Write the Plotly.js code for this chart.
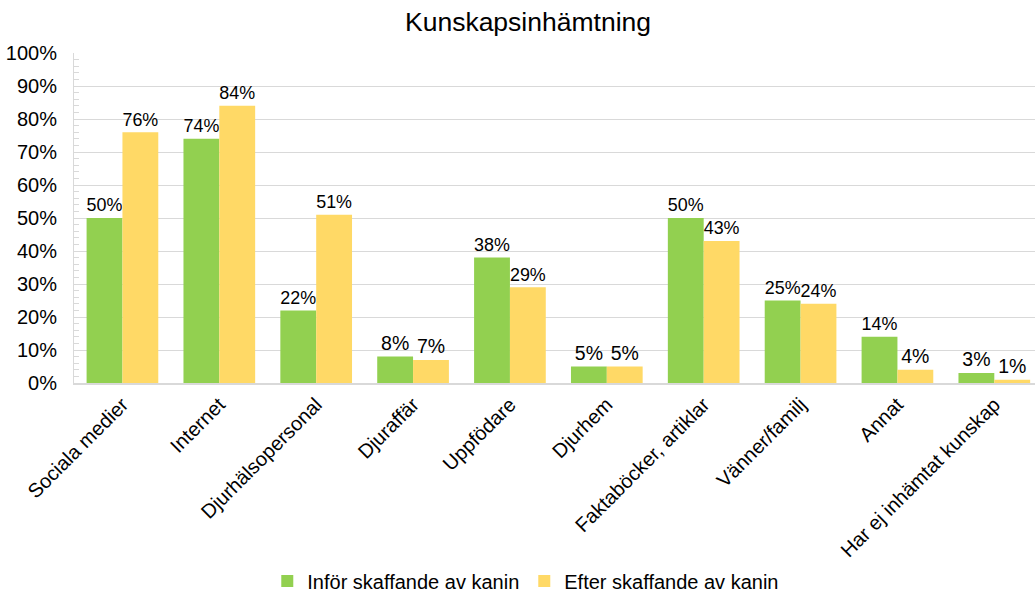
<!DOCTYPE html>
<html>
<head>
<meta charset="utf-8">
<script src="https://cdn.plot.ly/plotly-3.0.1.min.js"></script>
<style>html,body{margin:0;padding:0;background:#fff;}#chart{width:1035px;height:592px;}</style>
</head>
<body>
<div id="chart"></div>
<script>
const categories = ["Sociala medier","Internet","Djurhälsopersonal","Djuraffär","Uppfödare","Djurhem","Faktaböcker, artiklar","Vänner/familj","Annat","Har ej inhämtat kunskap"];
const seriesNames = ["Inför skaffande av kanin","Efter skaffande av kanin"];
const fore = [0.50,0.74,0.22,0.08,0.38,0.05,0.50,0.25,0.14,0.03];
const after = [0.76,0.84,0.51,0.07,0.29,0.05,0.43,0.24,0.04,0.01];
const yTicks = [0,0.1,0.2,0.3,0.4,0.5,0.6,0.7,0.8,0.9,1.0];

const font = "Liberation Sans, Arial, sans-serif";
function pct(v){return Math.round(v*100)+"%";}
const traces = [
  {type:"bar", name:seriesNames[0], x:categories, y:fore, marker:{color:"#92d050"},
   text:fore.map(pct), textposition:"outside", cliponaxis:false, textfont:{size:19.5,color:"#000",family:font}},
  {type:"bar", name:seriesNames[1], x:categories, y:after, marker:{color:"#ffd966"},
   text:after.map(pct), textposition:"outside", cliponaxis:false, textfont:{size:19.5,color:"#000",family:font}}
];
const layout = {
  width:1035, height:592,
  margin:{l:74, r:0, t:53, b:209},
  paper_bgcolor:"#fff", plot_bgcolor:"#fff",
  font:{family:font, color:"#000", size:20},
  title:{text:"Kunskapsinhämtning", font:{size:26.5, family:font, color:"#000"}, x:528/1035, xref:"container", xanchor:"center", y:1-22/592, yanchor:"middle"},
  barmode:"group", bargap:0.26, bargroupgap:0,
  xaxis:{type:"category", range:[-0.5,9.42], tickangle:-45, tickfont:{size:20}, showline:true, linecolor:"#d9d9d9", linewidth:2, ticks:"", showgrid:false, fixedrange:true},
  yaxis:{range:[0,1], tickvals:yTicks, ticktext:yTicks.map(pct), tickfont:{size:20}, showgrid:true, gridcolor:"#d9d9d9", gridwidth:1,
         showline:true, linecolor:"#d9d9d9", linewidth:1, ticks:"inside", ticklen:6, tickcolor:"#d9d9d9",
         minor:{dtick:0.02, ticks:"inside", ticklen:5, tickcolor:"#d9d9d9", showgrid:false}, zeroline:false, ticklabelstandoff:12},
  showlegend:true,
  legend:{orientation:"h", xref:"container", yref:"container", x:0.508, xanchor:"center", y:1-581/592, yanchor:"middle", font:{size:20}, itemwidth:30, traceorder:"normal"}
};
Plotly.newPlot("chart", traces, layout, {displayModeBar:false, staticPlot:true});
</script>
</body>
</html>
